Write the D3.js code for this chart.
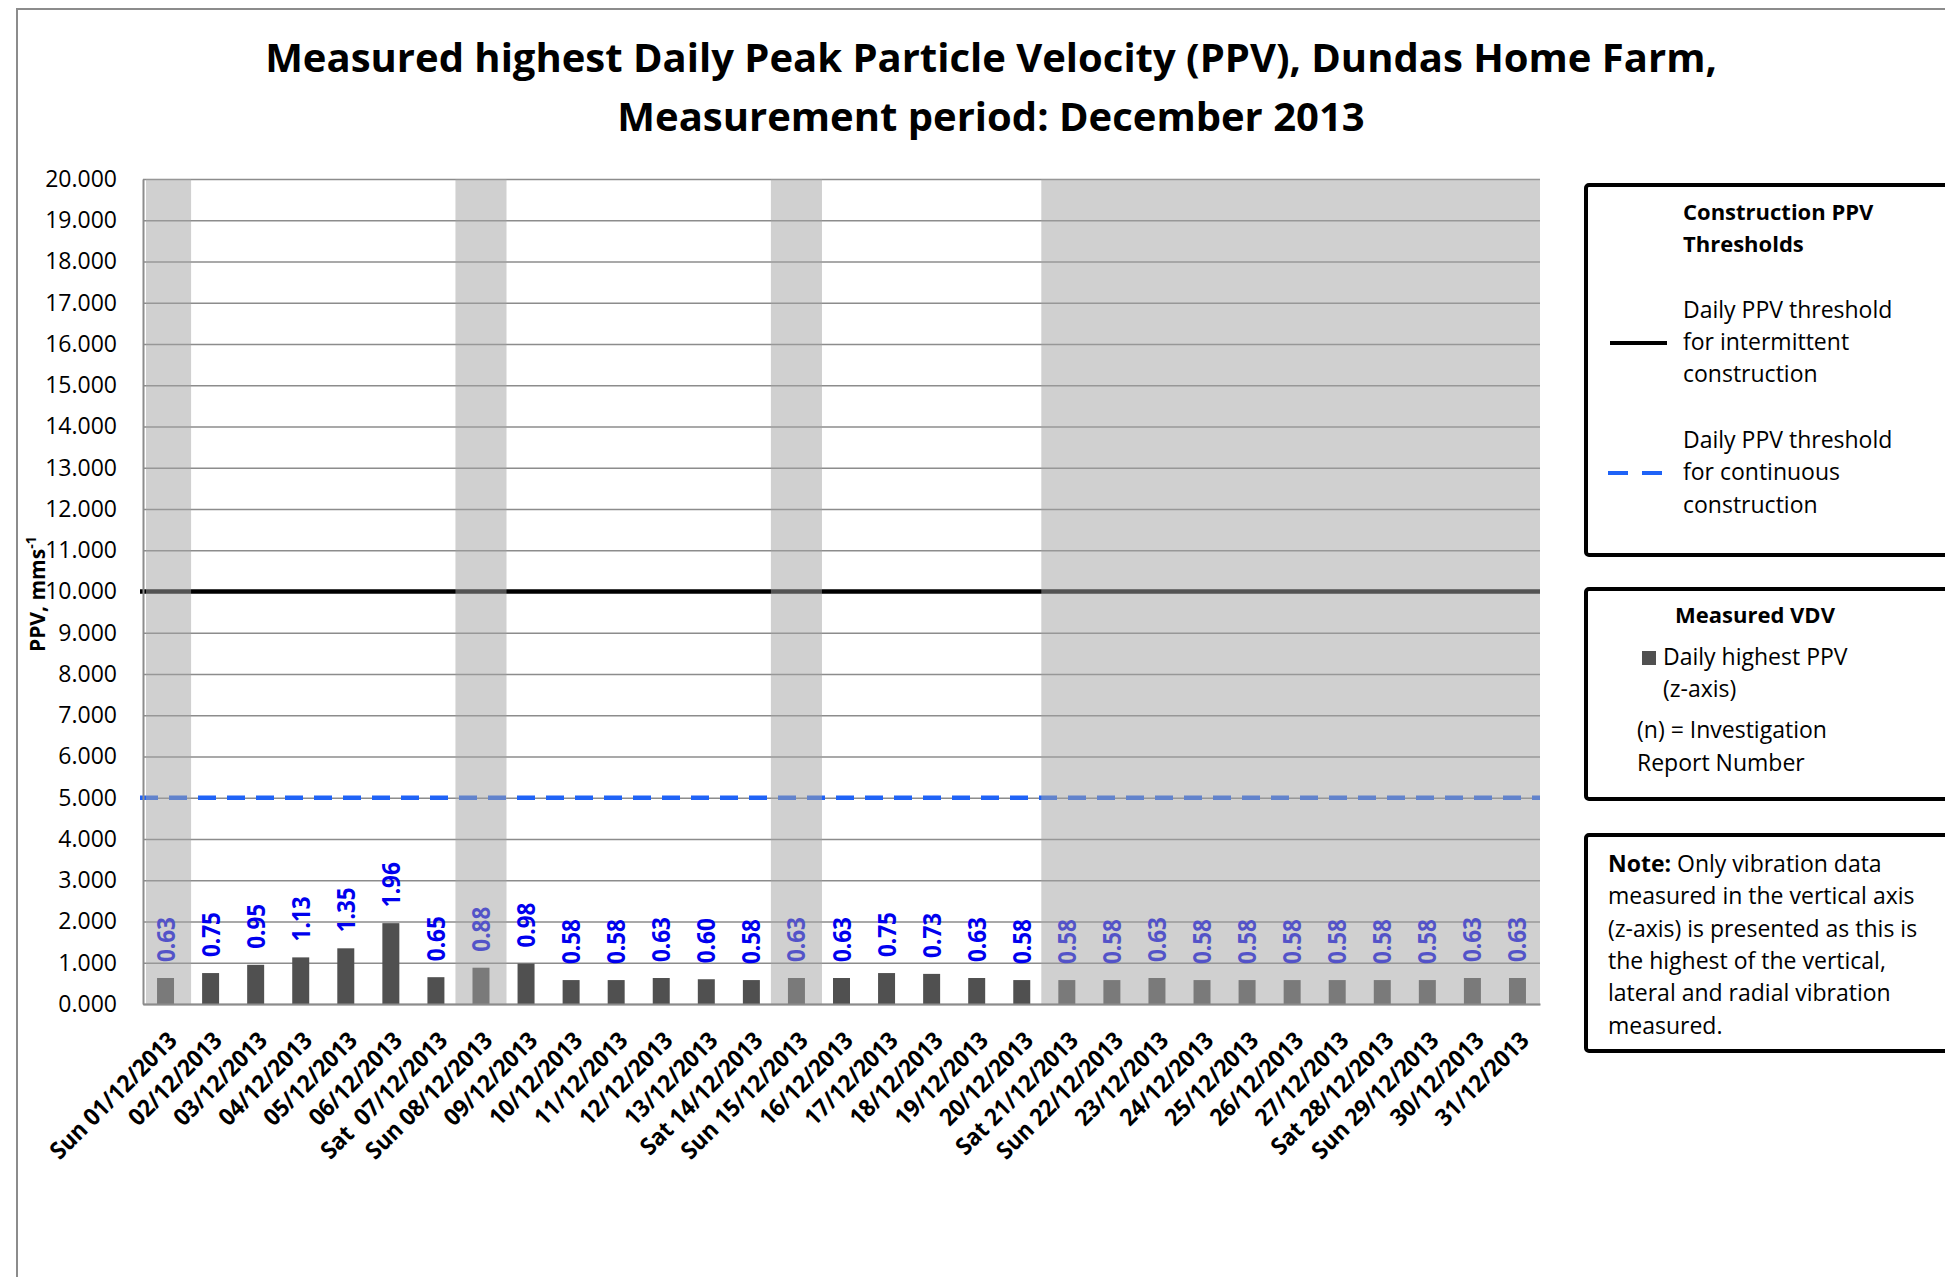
<!DOCTYPE html>
<html>
<head>
<meta charset="utf-8">
<script src="https://cdn.jsdelivr.net/npm/d3@7"></script>
<style>
  body { margin: 0; background: #fff; }
  svg text { font-family: "Open Sans", sans-serif; }
</style>
</head>
<body>
<div id="chart"></div>
<script>
// data
const dayLabels = [
  'Sun 01/12/2013', '02/12/2013', '03/12/2013', '04/12/2013', '05/12/2013', '06/12/2013',
  'Sat  07/12/2013', 'Sun 08/12/2013', '09/12/2013', '10/12/2013', '11/12/2013', '12/12/2013',
  '13/12/2013', 'Sat 14/12/2013', 'Sun 15/12/2013', '16/12/2013', '17/12/2013', '18/12/2013',
  '19/12/2013', '20/12/2013', 'Sat 21/12/2013', 'Sun 22/12/2013', '23/12/2013', '24/12/2013',
  '25/12/2013', '26/12/2013', '27/12/2013', 'Sat 28/12/2013', 'Sun 29/12/2013', '30/12/2013',
  '31/12/2013'
];
const ppvValues = [
  0.63, 0.75, 0.95, 1.13, 1.35, 1.96, 0.65, 0.88, 0.98, 0.58, 0.58, 0.63,
  0.60, 0.58, 0.63, 0.63, 0.75, 0.73, 0.63, 0.58, 0.58, 0.58, 0.63, 0.58,
  0.58, 0.58, 0.58, 0.58, 0.58, 0.63, 0.63
];
const thresholdIntermittent = 10;
const thresholdContinuous = 5;
const yDomain = [0, 20];
// weekend / holiday shading, first and last day of each span
const shadedSpans = [
  ['Sun 01/12/2013', 'Sun 01/12/2013'],
  ['Sun 08/12/2013', 'Sun 08/12/2013'],
  ['Sun 15/12/2013', 'Sun 15/12/2013'],
  ['Sat 21/12/2013', '31/12/2013']
];
const titleLines = [
  'Measured highest Daily Peak Particle Velocity (PPV), Dundas Home Farm,',
  'Measurement period: December 2013'
];
const noteLines = [
  'Only vibration data',
  'measured in the vertical axis',
  '(z-axis) is presented as this is',
  'the highest of the vertical,',
  'lateral and radial vibration',
  'measured.'
];

const width = 1945;
const height = 1277;
const plot = { left: 143, right: 1540, top: 179, bottom: 1004 };

const svg = d3.select('#chart').append('svg')
  .attr('width', width)
  .attr('height', height);

// outer chart frame (runs off the right and bottom of the picture)
svg.append('rect')
  .attr('x', 17).attr('y', 9)
  .attr('width', 2000).attr('height', 1400)
  .attr('fill', 'none')
  .attr('stroke', '#8c8c8c')
  .attr('stroke-width', 2);

// title
svg.append('g').selectAll('text')
  .data(titleLines)
  .enter().append('text')
    .attr('x', 991)
    .attr('y', (d, i) => 72 + i * 59)
    .attr('text-anchor', 'middle')
    .attr('font-size', 40)
    .attr('font-weight', 700)
    .attr('fill', '#000')
    .text(d => d);

const x = d3.scaleBand()
  .domain(dayLabels)
  .range([plot.left, plot.right]);

const y = d3.scaleLinear()
  .domain(yDomain)
  .range([plot.bottom, plot.top]);

// gridlines
svg.append('g')
  .attr('class', 'grid')
  .attr('transform', `translate(${plot.left},0)`)
  .call(d3.axisLeft(y).ticks(20).tickSize(-(plot.right - plot.left)).tickFormat(''))
  .call(g => g.select('.domain').remove())
  .call(g => g.selectAll('line').attr('stroke', '#8c8c8c').attr('stroke-width', 1.5));

// bars
const barW = x.bandwidth() * 0.377;
svg.append('g').selectAll('rect')
  .data(ppvValues)
  .enter().append('rect')
    .attr('x', (d, i) => x(dayLabels[i]) + (x.bandwidth() - barW) / 2)
    .attr('y', d => y(d))
    .attr('width', barW)
    .attr('height', d => y(0) - y(d))
    .attr('fill', '#505050');

// threshold lines
svg.append('line')
  .attr('x1', plot.left - 3).attr('x2', plot.right)
  .attr('y1', y(thresholdIntermittent)).attr('y2', y(thresholdIntermittent))
  .attr('stroke', '#000')
  .attr('stroke-width', 4.5);

svg.append('line')
  .attr('x1', plot.left - 3).attr('x2', plot.right)
  .attr('y1', y(thresholdContinuous)).attr('y2', y(thresholdContinuous))
  .attr('stroke', '#1f63f7')
  .attr('stroke-width', 4.5)
  .attr('stroke-dasharray', '18,11');

// value labels
svg.append('g').selectAll('text')
  .data(ppvValues)
  .enter().append('text')
    .attr('transform', (d, i) => `translate(${x(dayLabels[i]) + x.bandwidth() / 2 + 9},${y(d) - 16}) rotate(-90)`)
    .attr('font-size', 25)
    .attr('font-weight', 700)
    .attr('fill', '#0000ee')
    .attr('textLength', 45)
    .attr('lengthAdjust', 'spacingAndGlyphs')
    .text(d => d.toFixed(2));

// grey shading laid over the weekend / holiday days
svg.append('g').selectAll('rect')
  .data(shadedSpans)
  .enter().append('rect')
    .attr('x', d => Math.max(plot.left + 3, x(d[0]) - 3))
    .attr('y', plot.top)
    .attr('width', d => Math.min(plot.right, x(d[1]) + x.bandwidth() + 3) - Math.max(plot.left + 3, x(d[0]) - 3))
    .attr('height', plot.bottom - plot.top)
    .attr('fill', 'rgb(162,162,162)')
    .attr('fill-opacity', 0.51);

// axes
const yAxis = svg.append('g')
  .attr('transform', `translate(${plot.left},0)`)
  .call(d3.axisLeft(y).ticks(20).tickFormat(d3.format('.3f')).tickSize(0).tickPadding(26));
yAxis.select('.domain').attr('stroke', '#8c8c8c').attr('stroke-width', 2);
yAxis.selectAll('text')
  .attr('font-family', '"Open Sans", sans-serif')
  .attr('font-size', 23)
  .attr('fill', '#000');

const xAxis = svg.append('g')
  .attr('transform', `translate(0,${plot.bottom})`)
  .call(d3.axisBottom(x).tickSize(0).tickSizeOuter(0));
xAxis.select('.domain').attr('stroke', '#8c8c8c').attr('stroke-width', 2);
xAxis.selectAll('text')
  .attr('font-family', '"Open Sans", sans-serif')
  .attr('font-size', 24)
  .attr('font-weight', 700)
  .attr('fill', '#000')
  .attr('text-anchor', 'end')
  .attr('style', 'white-space: pre')
  .attr('x', 13).attr('y', 38).attr('dy', 0)
  .attr('transform', 'rotate(-45,13,38)')
  .each(function () {
    // the original's date labels are a little condensed
    const len = this.getComputedTextLength();
    d3.select(this).attr('textLength', len * 0.93).attr('lengthAdjust', 'spacingAndGlyphs');
  });

// y axis title
const yTitle = svg.append('text')
  .attr('transform', 'translate(45,652) rotate(-90)')
  .attr('font-size', 21)
  .attr('font-weight', 700)
  .attr('fill', '#000');
yTitle.append('tspan').text('PPV, mms');
yTitle.append('tspan').attr('font-size', 14).attr('dy', -9).text('-1');

// legend boxes (cut off by the right edge like the original)
const boxes = [
  { y0: 185, y1: 555 },
  { y0: 589, y1: 799 },
  { y0: 835, y1: 1051 }
];
svg.append('g').selectAll('rect')
  .data(boxes)
  .enter().append('rect')
    .attr('x', 1586)
    .attr('y', d => d.y0)
    .attr('width', 500)
    .attr('height', d => d.y1 - d.y0)
    .attr('rx', 3)
    .attr('fill', '#fff')
    .attr('stroke', '#000')
    .attr('stroke-width', 4);

const legend = svg.append('g').attr('font-size', 23).attr('fill', '#000');
const addText = (tx, ty, str, bold) => legend.append('text')
  .attr('x', tx).attr('y', ty)
  .attr('font-weight', bold ? 700 : 400)
  .attr('font-size', bold ? 22 : 23)
  .text(str);

addText(1683, 220, 'Construction PPV', true);
addText(1683, 252, 'Thresholds', true);
addText(1683, 318, 'Daily PPV threshold');
addText(1683, 350, 'for intermittent');
addText(1683, 382, 'construction');
addText(1683, 448, 'Daily PPV threshold');
addText(1683, 480, 'for continuous');
addText(1683, 513, 'construction');

legend.append('line')
  .attr('x1', 1610).attr('x2', 1667).attr('y1', 343).attr('y2', 343)
  .attr('stroke', '#000').attr('stroke-width', 4);
legend.append('line')
  .attr('x1', 1608).attr('x2', 1662).attr('y1', 473).attr('y2', 473)
  .attr('stroke', '#1f63f7').attr('stroke-width', 4)
  .attr('stroke-dasharray', '20,14');

addText(1675, 623, 'Measured VDV', true);
legend.append('rect')
  .attr('x', 1642).attr('y', 651).attr('width', 14).attr('height', 14)
  .attr('fill', '#505050');
addText(1663, 665, 'Daily highest PPV');
addText(1663, 697, '(z-axis)');
addText(1637, 738, '(n) = Investigation');
addText(1637, 771, 'Report Number');

const note = legend.append('g');
note.selectAll('text')
  .data(noteLines)
  .enter().append('text')
    .attr('x', 1608)
    .attr('y', (d, i) => 872 + i * 32.3)
    .each(function (d, i) {
      const t = d3.select(this);
      if (i === 0) t.append('tspan').attr('font-weight', 700).text('Note: ');
      t.append('tspan').text(d);
    });
</script>
</body>
</html>
